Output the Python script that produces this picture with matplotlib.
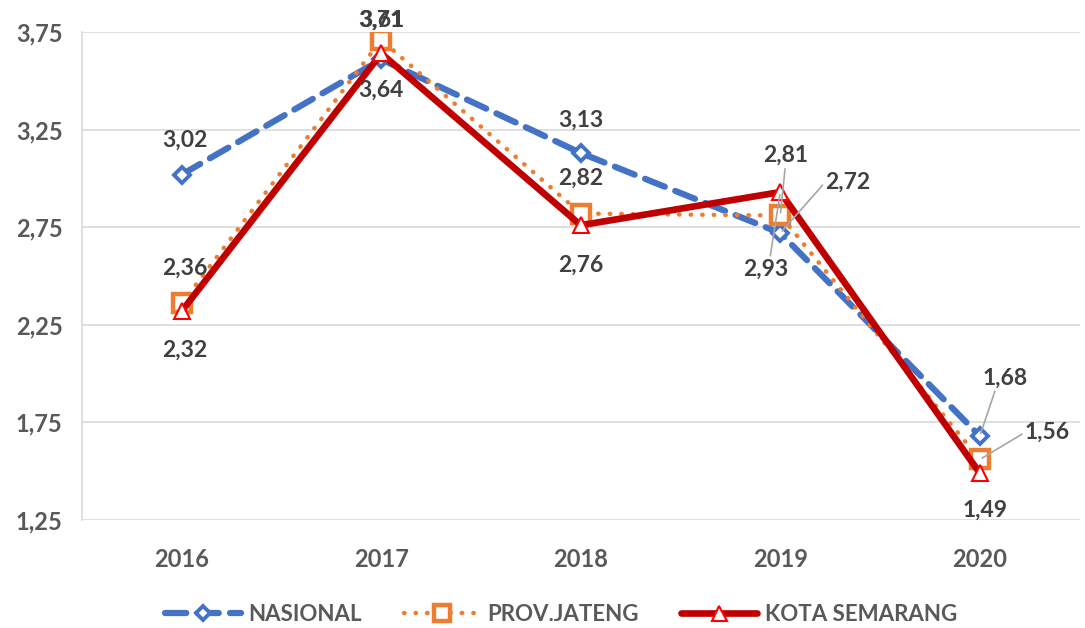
import matplotlib
matplotlib.use("Agg")
import matplotlib.pyplot as plt

years = ["2016", "2017", "2018", "2019", "2020"]
nasional = [3.02, 3.61, 3.13, 2.72, 1.68]
prov_jateng = [2.36, 3.71, 2.82, 2.81, 1.56]
kota_semarang = [2.32, 3.64, 2.76, 2.93, 1.49]
y_ticks = [1.25, 1.75, 2.25, 2.75, 3.25, 3.75]

plt.rcParams['font.family'] = ['Lato', 'DejaVu Sans']
txt = '#595959'
lbl = '#404040'

fig = plt.figure(figsize=(10.85, 6.28), dpi=100)
ax = fig.add_axes([0.0756, 0.172, 0.9194, 0.777])

x = list(range(len(years)))

ax.plot(x, nasional, color='#4472C4', lw=4.5, ls=(0, (3.4, 1.8)), dash_capstyle='round',
        marker='D', ms=8, mfc='white', mec='#4472C4', mew=2.8, label='NASIONAL', zorder=3)
ax.plot(x, prov_jateng, color='#ED7D31', lw=3.2, ls=(0, (0.1, 2.5)), dash_capstyle='round',
        marker='s', ms=13, mfc='white', mec='#ED7D31', mew=3.2, label='PROV.JATENG', zorder=4)
ax.plot(x, kota_semarang, color='#C00000', lw=4.8, solid_capstyle='round',
        marker='^', ms=12, mfc='white', mec='#FF0000', mew=1.5, label='KOTA SEMARANG', zorder=5)

ax.set_xlim(-0.5, len(years) - 0.5)
ax.set_ylim(1.25, 3.75)
ax.set_xticks(x)
ax.set_xticklabels(years)
ax.set_yticks(y_ticks)
ax.set_yticklabels([f"{v:.2f}".replace('.', ',') for v in y_ticks])
ax.tick_params(axis='both', length=0, labelsize=17, labelcolor=txt)
ax.tick_params(axis='x', pad=20)
ax.tick_params(axis='y', pad=14)
for t in ax.get_xticklabels() + ax.get_yticklabels():
    t.set_fontweight('bold')
ax.grid(axis='y', color='#D9D9D9', lw=1.2)
ax.set_axisbelow(True)
for s in ['top', 'right', 'bottom']:
    ax.spines[s].set_visible(False)
ax.spines['left'].set_color('#D9D9D9')
ax.spines['left'].set_linewidth(1.2)


def lab(v):
    return f"{v:.2f}".replace('.', ',')


# plain data labels: (series, index, offset in pixels)
labels = [
    (nasional, 0, (3, 34)),
    (prov_jateng, 0, (3, 35)),
    (kota_semarang, 0, (3, -39)),
    (nasional, 1, (1, 39)),
    (prov_jateng, 1, (0, 20)),
    (kota_semarang, 1, (0, -37)),
    (nasional, 2, (0, 33)),
    (prov_jateng, 2, (0, 35)),
    (kota_semarang, 2, (0, -40)),
    (kota_semarang, 4, (5, -37)),
]
for series, i, off in labels:
    ax.annotate(lab(series[i]), (i, series[i]), xytext=off, textcoords='offset pixels',
                ha='center', va='center', fontsize=16.5, fontweight='bold', color=lbl, zorder=6)

# labels with leader lines
lead = dict(arrowstyle='-', color='#A6A6A6', lw=1.2, shrinkA=0, shrinkB=2)
leaders = [
    (prov_jateng, 3, (5, 60), 'center', (0.5, 0)),
    (nasional, 3, (45, 51), 'left', (0, 0.5)),
    (kota_semarang, 3, (-15, -77), 'center', (0.6, 1)),
    (nasional, 4, (25, 58), 'center', (0.3, 0)),
    (prov_jateng, 4, (45, 27), 'left', (0, 0.5)),
]
for series, i, off, ha, rp in leaders:
    ax.annotate(lab(series[i]), (i, series[i]), xytext=off, textcoords='offset pixels',
                ha=ha, va='center', fontsize=16.5, fontweight='bold', color=lbl, zorder=6,
                arrowprops=dict(lead, relpos=rp))

leg = fig.legend(loc='center', bbox_to_anchor=(0.517, 0.022), ncol=3, frameon=False,
                 handlelength=3.4, handletextpad=0.35, columnspacing=1.9,
                 fontsize=16, markerscale=0.9)
for t in leg.get_texts():
    t.set_color(txt)
    t.set_fontweight('bold')

fig.savefig('out.png', dpi=100)
